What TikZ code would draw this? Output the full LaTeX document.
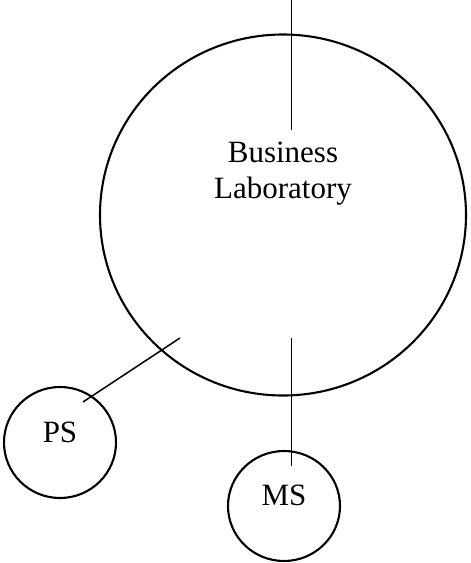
\documentclass[tikz,border=0pt]{standalone}
\usepackage{fontspec}
\setmainfont{Liberation Serif}
\usetikzlibrary{shapes.geometric}
\tikzset{
  ring/.style={draw, ellipse, line width=2.1pt, inner sep=0pt},
  link/.style={line width=1.5pt},
  lbl/.style={font=\fontsize{31}{36}\selectfont, anchor=base, inner sep=0pt}
}
\begin{document}
\begin{tikzpicture}[x=1pt, y=-1pt]
\useasboundingbox (0,0) rectangle (471,563);
\node[ring, minimum width=366pt, minimum height=361pt] (big) at (283,215) {};
\node[ring, minimum width=112pt, minimum height=111pt] (ps) at (60,442.5) {};
\node[ring, minimum width=112pt, minimum height=110pt] (ms) at (284,506) {};
\node[lbl] (t1) at (283,162) {Business};
\node[lbl] (t2) at (283,198) {Laboratory};
\node[lbl] (pst) at (60,442) {PS};
\node[lbl] (mst) at (284,505) {MS};
\coordinate (topA) at (291.7,0);
\coordinate (topB) at (291.7,130);
\coordinate (botA) at (291.7,338);
\coordinate (botB) at (291.7,466);
\coordinate (psA) at (180,338);
\coordinate (psB) at (83,402);
\draw[link] (topA) -- (topB);
\draw[link] (botA) -- (botB);
\draw[link] (psA) -- (psB);
\end{tikzpicture}
\end{document}
